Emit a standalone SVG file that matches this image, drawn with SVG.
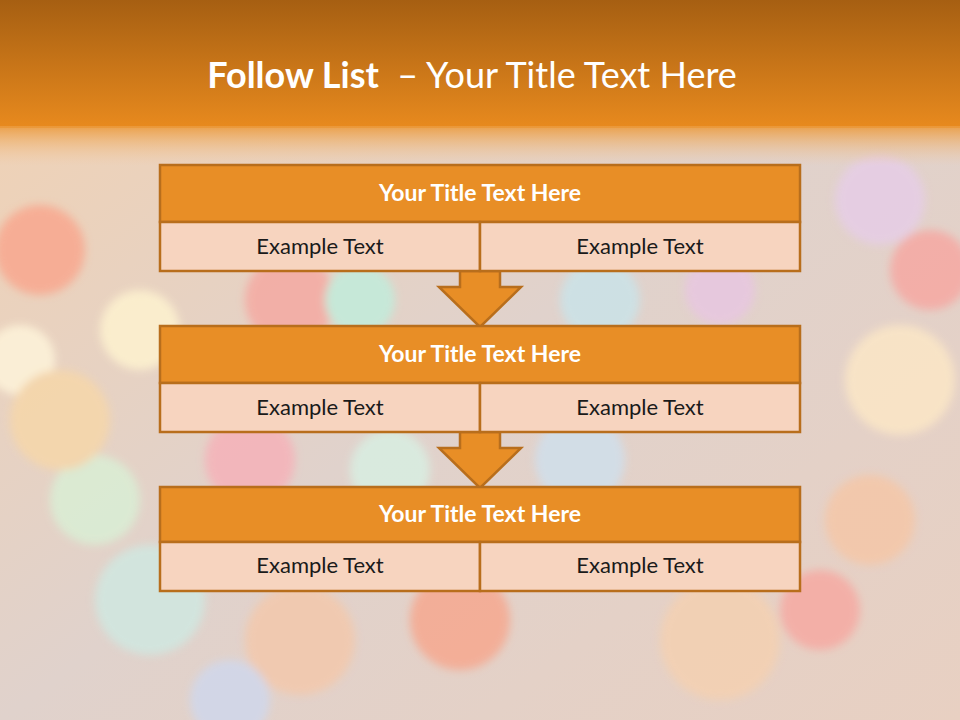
<svg xmlns="http://www.w3.org/2000/svg" width="960" height="720" viewBox="0 0 960 720">
<defs>
<linearGradient id="hdr" x1="0" y1="0" x2="0" y2="1">
<stop offset="0" stop-color="#a65f12"/>
<stop offset="1" stop-color="#e88a1e"/>
</linearGradient>
<linearGradient id="fade" x1="0" y1="0" x2="0" y2="1">
<stop offset="0" stop-color="#eb9a3c" stop-opacity="0.9"/>
<stop offset="1" stop-color="#f3c79a" stop-opacity="0"/>
</linearGradient>
<linearGradient id="bg" x1="0" y1="0" x2="1" y2="1">
<stop offset="0" stop-color="#f2d2b2"/>
<stop offset="0.5" stop-color="#e0d2cc"/>
<stop offset="1" stop-color="#e8d0c2"/>
</linearGradient>
<filter id="blur" x="-10%" y="-10%" width="120%" height="120%"><feGaussianBlur stdDeviation="4"/></filter>
<style>
.ttl{fill:#e88e26;stroke:#b86e1c;stroke-width:2.5}
.sub{fill:#f7d4bf;stroke:#b86e1c;stroke-width:2.5}
.arr{fill:#e88e26;stroke:#b86e1c;stroke-width:2.5;stroke-linejoin:miter}
.th{font-family:Lato,"Open Sans","Liberation Sans",sans-serif;font-weight:bold;font-size:23px;fill:#ffffff;text-anchor:middle}
.tx{font-family:Lato,"Open Sans","Liberation Sans",sans-serif;font-size:22px;fill:#1a1a1a;text-anchor:middle}
</style>
</defs>
<rect width="960" height="720" fill="url(#bg)"/>
<g filter="url(#blur)" opacity="0.8">
<circle cx="40" cy="250" r="45" fill="#f9a58c"/>
<circle cx="140" cy="330" r="40" fill="#fff4d0"/>
<circle cx="20" cy="360" r="35" fill="#fff6dc"/>
<circle cx="95" cy="500" r="45" fill="#d9f0d6"/>
<circle cx="150" cy="600" r="55" fill="#cfe9e2"/>
<circle cx="60" cy="420" r="50" fill="#f7d7a8"/>
<circle cx="290" cy="300" r="45" fill="#f6a7a0"/>
<circle cx="360" cy="300" r="35" fill="#bfeedd"/>
<circle cx="250" cy="460" r="45" fill="#f7b0b8"/>
<circle cx="390" cy="470" r="40" fill="#d8f0e3"/>
<circle cx="460" cy="620" r="50" fill="#f7a68c"/>
<circle cx="580" cy="460" r="45" fill="#cfe0ee"/>
<circle cx="600" cy="300" r="40" fill="#c9e4ea"/>
<circle cx="720" cy="290" r="35" fill="#e8c6e2"/>
<circle cx="900" cy="380" r="55" fill="#fde8c6"/>
<circle cx="930" cy="270" r="40" fill="#f7a6a0"/>
<circle cx="880" cy="200" r="45" fill="#e6cde8"/>
<circle cx="870" cy="520" r="45" fill="#f6c6a6"/>
<circle cx="720" cy="640" r="60" fill="#f5d0b0"/>
<circle cx="300" cy="640" r="55" fill="#f4c8aa"/>
<circle cx="820" cy="610" r="40" fill="#f7a7a0"/>
<circle cx="230" cy="700" r="40" fill="#cfd8ee"/>
</g>
<rect x="0" y="0" width="960" height="128" fill="url(#hdr)"/>
<rect x="0" y="126" width="960" height="40" fill="url(#fade)"/>
<text x="472" y="88" text-anchor="middle" font-family="Lato,'Open Sans','Liberation Sans',sans-serif" font-size="36" fill="#ffffff" xml:space="preserve"><tspan font-weight="bold">Follow List</tspan>  – Your Title Text Here</text>
<g id="connectors">
<polygon class="arr" points="460,271 500,271 500,287 521,287 480,327 439,287 460,287"/>
<polygon class="arr" points="460,432 500,432 500,448 521,448 480,488 439,448 460,448"/>
</g>
<g id="node1">
<rect class="ttl" x="160" y="165" width="640" height="57"/>
<rect class="sub" x="160" y="222" width="320" height="49"/>
<rect class="sub" x="480" y="222" width="320" height="49"/>
<text class="th" x="480" y="201">Your Title Text Here</text>
<text class="tx" x="320" y="254">Example Text</text>
<text class="tx" x="640" y="254">Example Text</text>
</g>
<g id="node2">
<rect class="ttl" x="160" y="326" width="640" height="57"/>
<rect class="sub" x="160" y="383" width="320" height="49"/>
<rect class="sub" x="480" y="383" width="320" height="49"/>
<text class="th" x="480" y="362">Your Title Text Here</text>
<text class="tx" x="320" y="415">Example Text</text>
<text class="tx" x="640" y="415">Example Text</text>
</g>
<g id="node3">
<rect class="ttl" x="160" y="487" width="640" height="55"/>
<rect class="sub" x="160" y="542" width="320" height="49"/>
<rect class="sub" x="480" y="542" width="320" height="49"/>
<text class="th" x="480" y="522">Your Title Text Here</text>
<text class="tx" x="320" y="573">Example Text</text>
<text class="tx" x="640" y="573">Example Text</text>
</g>
</svg>
